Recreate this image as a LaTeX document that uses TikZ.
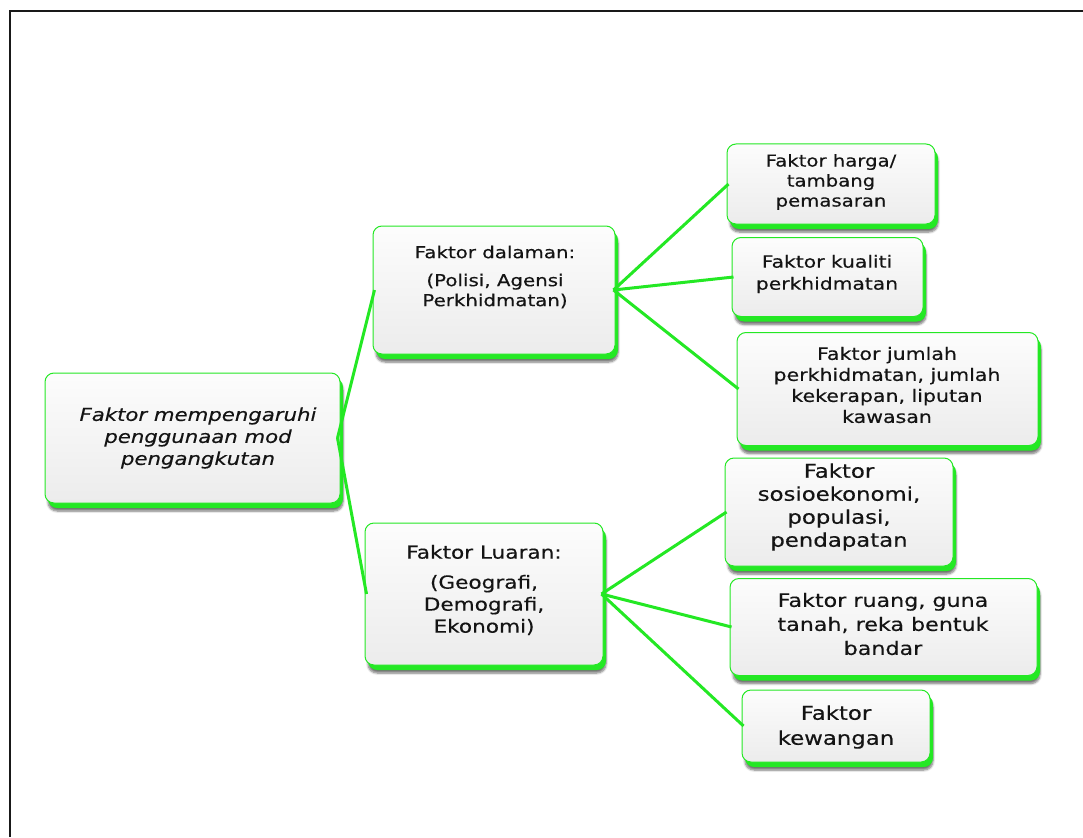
\documentclass[tikz,border=0pt]{standalone}
\usepackage{fontspec}
\setmainfont[FakeStretch=1.2,FakeBold=0.4]{DejaVu Sans}
\usetikzlibrary{shadows,shadows.blur}
\definecolor{lg}{RGB}{36,232,36}
\definecolor{txtc}{RGB}{20,20,20}
\begin{document}
\begin{tikzpicture}[x=1pt,y=-1pt,
  box/.style={rounded corners=9pt, draw=lg, line width=1pt,
    top color=gray!2, bottom color=gray!15,
    blur shadow={shadow xshift=3pt, shadow yshift=-8pt, shadow blur steps=6, shadow opacity=55},
    general shadow={fill=lg, shadow yshift=-5pt},
    inner sep=0pt},
  txt/.style={align=center, text=txtc, inner sep=0pt},
  conn/.style={draw=lg, line width=3pt}]
\useasboundingbox (0,0) rectangle (1083,837);
\draw[line width=2pt, black!90] (9.5,837) -- (9.5,11.5) -- (1083,11.5);

\node[box, minimum width=295pt, minimum height=130pt] (root) at (192.5,438) {};
\node[box, minimum width=242pt, minimum height=128pt] (dal) at (494,290) {};
\node[box, minimum width=238pt, minimum height=142pt] (lua) at (484,594) {};
\node[box, minimum width=208pt, minimum height=80pt] (harga) at (831,184) {};
\node[box, minimum width=191pt, minimum height=79pt] (kual) at (827.5,277) {};
\node[box, minimum width=301pt, minimum height=113pt] (jum) at (887.5,389) {};
\node[box, minimum width=228pt, minimum height=108pt] (sos) at (839,512) {};
\node[box, minimum width=307pt, minimum height=97pt] (ruang) at (883.5,627) {};
\node[box, minimum width=188pt, minimum height=72pt] (kew) at (836,726) {};

\draw[conn] ([xshift=-3pt]root.east) -- ([xshift=2pt]dal.west);
\draw[conn] ([xshift=-3pt]root.east) -- ([xshift=2pt]lua.west);
\draw[conn] ([xshift=-2pt]dal.east) -- ([xshift=2pt]harga.west);
\draw[conn] ([xshift=-2pt]dal.east) -- ([xshift=2pt]kual.west);
\draw[conn] ([xshift=-2pt]dal.east) -- ([xshift=2pt]jum.west);
\draw[conn] ([xshift=-2pt]lua.east) -- ([xshift=2pt]sos.west);
\draw[conn] ([xshift=-2pt]lua.east) -- ([xshift=2pt]ruang.west);
\draw[conn] ([xshift=-2pt]lua.east) -- ([xshift=2pt]kew.west);

\node[txt, font=\fontsize{17.7}{22}\selectfont\itshape] (t1) at (198,438)
  {Faktor mempengaruhi\\penggunaan mod\\pengangkutan};
\node[txt, font=\fontsize{16.5}{20}\selectfont] (t2) at (495,277)
  {Faktor dalaman:\\[8pt](Polisi, Agensi\\Perkhidmatan)};
\node[txt, font=\fontsize{18}{22}\selectfont] (t3) at (484,590)
  {Faktor Luaran:\\[8pt](Geografi,\\Demografi,\\Ekonomi)};
\node[txt, font=\fontsize{16.4}{20}\selectfont] (t4) at (831,182)
  {Faktor harga/\\tambang\\pemasaran};
\node[txt, font=\fontsize{16.9}{22}\selectfont] (t5) at (827,274)
  {Faktor kualiti\\perkhidmatan};
\node[txt, font=\fontsize{17.1}{21}\selectfont] (t6) at (887,385)
  {Faktor jumlah\\perkhidmatan, jumlah\\kekerapan, liputan\\kawasan};
\node[txt, font=\fontsize{19}{23}\selectfont] (t7) at (839,507)
  {Faktor\\sosioekonomi,\\populasi,\\pendapatan};
\node[txt, font=\fontsize{18.5}{24}\selectfont] (t8) at (883,624)
  {Faktor ruang, guna\\tanah, reka bentuk\\bandar};
\node[txt, font=\fontsize{19}{25}\selectfont] (t9) at (836,727)
  {Faktor\\kewangan};
\end{tikzpicture}
\end{document}
